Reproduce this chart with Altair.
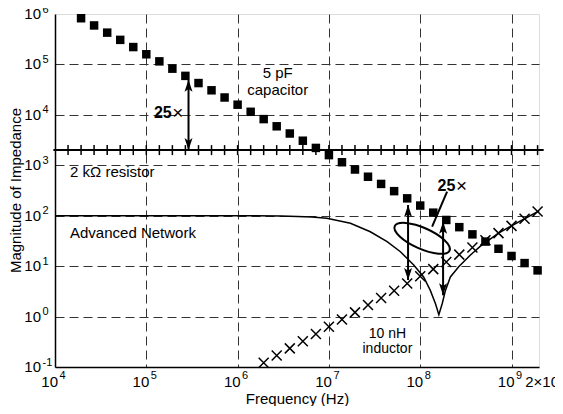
import altair as alt
import pandas as pd

FONT = "Liberation Sans"

# frequencies of the marker points (Hz), 7 per decade
freq = [1.39e4, 1.93e4, 2.68e4, 3.73e4, 5.18e4, 7.20e4,
        1.00e5, 1.39e5, 1.93e5, 2.68e5, 3.73e5, 5.18e5, 7.20e5,
        1.00e6, 1.39e6, 1.93e6, 2.68e6, 3.73e6, 5.18e6, 7.20e6,
        1.00e7, 1.39e7, 1.93e7, 2.68e7, 3.73e7, 5.18e7, 7.20e7,
        1.00e8, 1.39e8, 1.93e8, 2.68e8, 3.73e8, 5.18e8, 7.20e8,
        1.00e9, 1.39e9, 1.93e9]

# 2 kOhm resistor
resistor_z = 2000
resistor_span = [9.6e3, 2.25e9]

# 5 pF capacitor (squares)
cap_freq = freq[1:]
cap_z = [8.24e5, 5.93e5, 4.27e5, 3.07e5, 2.21e5,
         1.59e5, 1.15e5, 8.24e4, 5.93e4, 4.27e4, 3.07e4, 2.21e4,
         1.59e4, 1.15e4, 8.24e3, 5.93e3, 4.27e3, 3.07e3, 2.21e3,
         1.59e3, 1.15e3, 824, 593, 427, 307, 221,
         159, 115, 82.4, 59.3, 42.7, 30.7, 22.1,
         15.9, 11.5, 8.24]

# 10 nH inductor (crosses)
ind_freq = freq[15:]
ind_z = [0.121, 0.169, 0.234, 0.325, 0.452,
         0.628, 0.873, 1.21, 1.69, 2.34, 3.25, 4.52,
         6.28, 8.73, 12.1, 16.9, 23.4, 32.5, 45.2,
         62.8, 87.3, 121]

# Advanced network curve
net_freq = [1e4, 1e5, 1e6, 3e6, 4.5e6, 6.5e6, 9.5e6, 1.72e7, 2.84e7, 4.34e7,
            6.07e7, 8.49e7, 1.09e8, 1.29e8, 1.47e8, 1.60e8, 1.74e8, 1.89e8,
            2.14e8, 2.64e8, 3.55e8, 4.57e8, 7.2e8, 1.0e9, 1.39e9, 2.0e9]
net_z = [100, 100, 100, 99, 97, 94, 88.7, 71, 48, 30.5,
         19.3, 10.5, 6.1, 3.3, 1.8, 1.09, 1.8, 3.3,
         6.1, 9.7, 16.6, 25, 45, 63, 87, 125]

# double-headed arrows
arrow_freq = [2.9e5, 7.36e7, 1.78e8]
arrow_low = [2000, 5.3, 2.64]
arrow_high = [4.95e4, 163, 76]

# ellipse and pointer
ellipse_center = (1.05e8, 35.6)
pointer = (1.97e8, 300, 1.35e8, 60.5)

# tick labels
x_ticks = [1e4, 1e5, 1e6, 1e7, 1e8, 1e9]
x_exps = ["4", "5", "6", "7", "8", "9"]
x_last_tick = 2e9
y_ticks = [0.1, 1, 10, 100, 1e3, 1e4, 1e5, 1e6]
y_exps = ["-1", "0", "1", "2", "3", "4", "5", "6"]

xmin, ymin = 1e4, 0.1
xscale = alt.Scale(type="log", domain=[1e4, 2e9], nice=False)
yscale = alt.Scale(type="log", domain=[0.1, 1e6], nice=False)

xaxis = alt.Axis(
    values=x_ticks[1:], labels=False,
    title="Frequency (Hz)", titleX=242, titleY=36, titleBaseline="alphabetic",
    titleFont=FONT, titleFontSize=15, titleFontWeight="normal", titleColor="black",
    ticks=False, domainColor="black", domainWidth=1.5,
    grid=True, gridColor="#333333", gridDash=[9, 5], gridWidth=1,
)
yaxis = alt.Axis(
    values=y_ticks[1:-1], labels=False,
    title="Magnitude of Impedance", titleX=-40, titleY=176, titleBaseline="middle",
    titleAlign="center",
    titleFont=FONT, titleFontSize=15, titleFontWeight="normal", titleColor="black",
    ticks=False, domainColor="black", domainWidth=1.5,
    grid=True, gridColor="#333333", gridDash=[9, 5], gridWidth=1,
)

X = lambda f="f": alt.X(f"{f}:Q", scale=xscale, axis=xaxis)
Y = lambda f="z": alt.Y(f"{f}:Q", scale=yscale, axis=yaxis)

cap_df = pd.DataFrame({"f": cap_freq, "z": cap_z})
ind_df = pd.DataFrame({"f": ind_freq, "z": ind_z})
res_df = pd.DataFrame({"f": freq, "z": [resistor_z] * len(freq)})
res_line_df = pd.DataFrame({"f": [resistor_span[0]], "f2": [resistor_span[1]], "z": [resistor_z]})
net_df = pd.DataFrame({"f": net_freq, "z": net_z})
arr_df = pd.DataFrame({"f": arrow_freq, "lo": arrow_low, "hi": arrow_high})
ell_df = pd.DataFrame({"f": [ellipse_center[0]], "z": [ellipse_center[1]]})
ptr_df = pd.DataFrame({"f": [pointer[0]], "z": [pointer[1]], "f2": [pointer[2]], "z2": [pointer[3]]})

layers = []

# resistor line + tick marks
layers.append(alt.Chart(res_line_df).mark_rule(color="black", strokeWidth=2, clip=False).encode(
    x=X(), x2="f2:Q", y=Y()))
layers.append(alt.Chart(res_df).mark_point(shape="M0,-1L0,1", size=100, color="black",
                                            strokeWidth=1.5, opacity=1).encode(x=X(), y=Y()))

# network curve
layers.append(alt.Chart(net_df).mark_line(color="black", strokeWidth=1.5).encode(x=X(), y=Y()))

# inductor crosses
layers.append(alt.Chart(ind_df).mark_point(shape="M-1,-1L1,1M-1,1L1,-1", size=100, color="black",
                                            strokeWidth=1.5, opacity=1).encode(x=X(), y=Y()))

# capacitor squares
layers.append(alt.Chart(cap_df).mark_square(size=72, color="black", opacity=1).encode(x=X(), y=Y()))

# arrows
layers.append(alt.Chart(arr_df).mark_rule(color="black", strokeWidth=2).encode(
    x=X(), y=Y("lo"), y2="hi:Q"))
layers.append(alt.Chart(arr_df).mark_point(shape="M0,0L-0.5,1.5L0,1.15L0.5,1.5Z", size=256,
                                            filled=True, color="black", opacity=1).encode(x=X(), y=Y("hi")))
layers.append(alt.Chart(arr_df).mark_point(shape="M0,0L-0.5,-1.5L0,-1.15L0.5,-1.5Z", size=256,
                                            filled=True, color="black", opacity=1).encode(x=X(), y=Y("lo")))

# ellipse and pointer line
layers.append(alt.Chart(ell_df).mark_point(
    shape="M -1 0 A 1 0.35 0 1 0 1 0 A 1 0.35 0 1 0 -1 0 Z", size=3600, angle=24,
    filled=False, color="black", strokeWidth=2, opacity=1).encode(x=X(), y=Y()))
layers.append(alt.Chart(ptr_df).mark_rule(color="black", strokeWidth=2).encode(
    x=X(), y=Y(), x2="f2:Q", y2="z2:Q"))


def text_layer(fs, zs, labels, size=15, align="left", weight="normal", dx=0, dy=0):
    df = pd.DataFrame({"f": fs, "z": zs, "t": labels})
    return alt.Chart(df).mark_text(font=FONT, fontSize=size, align=align, baseline="middle",
                                   fontWeight=weight, color="black", dx=dx, dy=dy).encode(
        x=X(), y=Y(), text="t:N")


# annotation texts
layers.append(text_layer([2.75e6, 2.75e6], [6.73e4, 3.14e4], ["5 pF", "capacitor"], align="center"))
layers.append(text_layer([1.46e4], [748], ["2 kΩ resistor"]))
layers.append(text_layer([1.46e4], [44.7], ["Advanced Network"]))
layers.append(text_layer([4.37e7, 4.37e7], [0.461, 0.232], ["10 nH", "inductor"], size=14, align="center"))
layers.append(text_layer([1.9e5, 2.43e8], [1.08e4, 389], ["25", "25"], size=16, align="right", weight="bold"))
layers.append(text_layer([1.92e5, 2.47e8], [1.08e4, 389], ["×", "×"], size=19, align="left"))

# tick labels (base and superscript exponent)
layers.append(text_layer([xmin] * len(y_ticks), y_ticks, ["10"] * len(y_ticks), align="right", dx=-14))
layers.append(text_layer([xmin] * len(y_ticks), y_ticks, y_exps, size=11, align="left", dx=-12.5, dy=-4.5))
layers.append(text_layer(x_ticks, [ymin] * len(x_ticks), ["10"] * len(x_ticks), align="right", dx=3, dy=15))
layers.append(text_layer(x_ticks, [ymin] * len(x_ticks), x_exps, size=11, align="left", dx=4.5, dy=9))
layers.append(text_layer([x_last_tick], [ymin], ["2×10"], align="right", dx=20, dy=15))
layers.append(text_layer([x_last_tick], [ymin], ["9"], size=11, align="left", dx=21.5, dy=9))

chart = alt.layer(*layers).properties(
    width=484, height=353,
    autosize=alt.AutoSizeParams(type="none"),
    padding={"left": 47, "top": 6, "right": 16, "bottom": 39},
).configure_view(stroke="black", strokeWidth=1.5).configure(background="white")

chart.save("out.html", embed_options={"renderer": "svg", "actions": False})
